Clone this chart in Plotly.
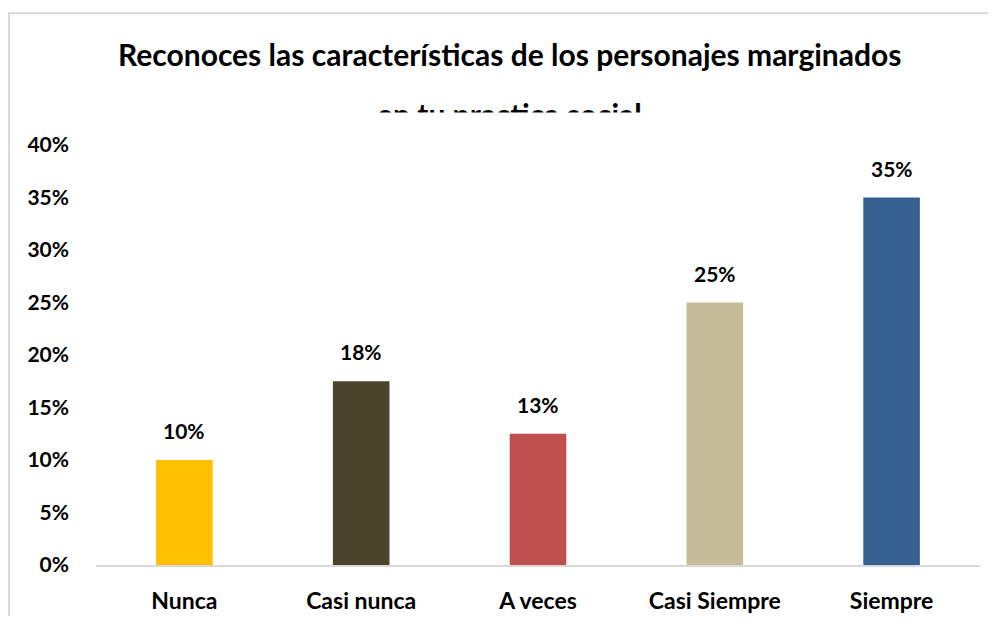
import plotly.graph_objects as go

categories = ["Nunca", "Casi nunca", "A veces", "Casi Siempre", "Siempre"]
values = [0.10, 0.175, 0.125, 0.25, 0.35]
value_labels = ["10%", "18%", "13%", "25%", "35%"]
bar_colors = ["#FFC000", "#4A452A", "#C0504D", "#C4BD97", "#376092"]
title_line1 = "Reconoces las características de los personajes marginados"
title_line2 = "en tu practica social"

FONT = "Lato, 'Open Sans', sans-serif"
# the page body adds an 8px margin, so the figure is 8px smaller and shifted
W, H = 980, 608
L, R, T, B = 88, 8, 137, 51
PH = H - T - B
PW = W - L - R

def py(px):
    return (H - B - px) / PH

def pxx(px):
    return (px - L) / PW

fig = go.Figure(go.Bar(
    x=categories, y=values, marker=dict(color=bar_colors, line=dict(width=0)),
    hoverinfo="skip",
))

annotations = []
for c, v, t in zip(categories, values, value_labels):
    annotations.append(dict(x=c, y=v, xref="x", yref="y", text=t, showarrow=False,
                            yanchor="bottom", yshift=15,
                            font=dict(family=FONT, size=21, color="#000000", weight="bold")))

annotations.append(dict(x=pxx(501), y=py(46), xref="paper", yref="paper", text="<b>" + title_line1 + "</b>",
                        showarrow=False, yanchor="middle", xanchor="center",
                        font=dict(family=FONT, size=30, color="#000000")))
annotations.append(dict(x=pxx(501), y=py(106), xref="paper", yref="paper", text="<b>" + title_line2 + "</b>",
                        showarrow=False, yanchor="middle", xanchor="center",
                        font=dict(family=FONT, size=30, color="#000000")))
# plot area covers lower part of second title line
annotations.append(dict(x=pxx(501), y=py(104), xref="paper", yref="paper", text="",
                        showarrow=False, yanchor="top", xanchor="center",
                        width=700, height=30, bgcolor="#FFFFFF", borderpad=0))

fig.update_layout(
    width=W, height=H,
    margin=dict(l=L, r=R, t=T, b=B),
    paper_bgcolor="#FFFFFF", plot_bgcolor="#FFFFFF",
    bargap=0.68, showlegend=False,
    font=dict(family=FONT, color="#000000"),
    annotations=annotations,
    shapes=[dict(type="rect", xref="paper", yref="paper",
                 x0=pxx(1), x1=pxx(1010), y0=py(640), y1=py(5.3),
                 line=dict(color="#D9D9D9", width=2), fillcolor="rgba(0,0,0,0)", layer="below")],
)
fig.update_xaxes(showline=True, linecolor="#D9D9D9", linewidth=2, showgrid=False,
                 ticks="", ticklabelstandoff=14, automargin=False,
                 tickfont=dict(family=FONT, size=23, color="#000000", weight="bold"))
fig.update_yaxes(range=[0, 0.4], dtick=0.05, tickformat=".0%", showgrid=False, showline=False,
                 zeroline=False, ticks="", ticklabelstandoff=26, automargin=False,
                 tickfont=dict(family=FONT, size=21, color="#000000", weight="bold"))

fig.write_html("out.html")
